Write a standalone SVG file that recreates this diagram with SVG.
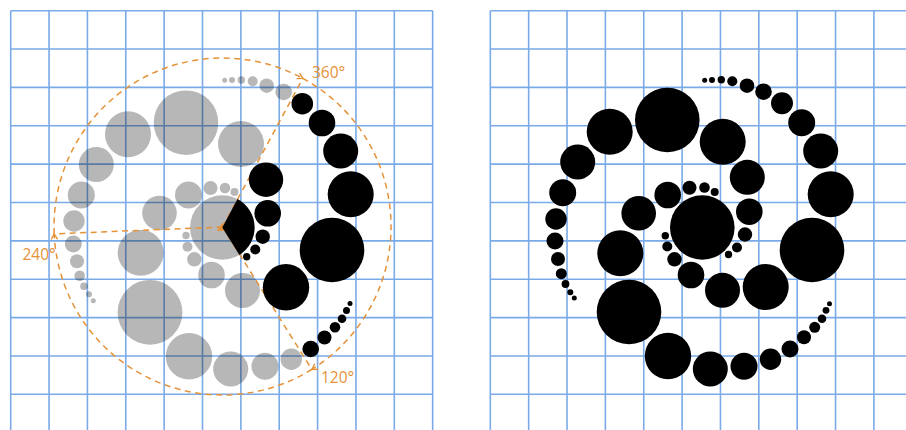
<svg xmlns="http://www.w3.org/2000/svg" width="906" height="430" viewBox="0 0 906 430">
<style>
.grid{fill:none;stroke:#7aabe8;stroke-width:1.6}
.gray{fill:#000}
.blk{fill:#000}
.guide{fill:none;stroke:#e59239;stroke-width:1.5;stroke-dasharray:6 4.5}
.lbl{font-family:"Open Sans","Liberation Sans",sans-serif;font-size:15.5px;fill:#e59239}
</style>
<defs>
<marker id="ah" markerUnits="userSpaceOnUse" markerWidth="10" markerHeight="10" refX="6.5" refY="4" orient="auto">
<path d="M1,0.8 L6.5,4 L1,7.2" fill="none" stroke="#e59239" stroke-width="1.4"/>
</marker>
<g id="grid">
<path class="grid" d="M10.7,10.7V430M49.06,10.7V430M87.42,10.7V430M125.78,10.7V430M164.14,10.7V430M202.5,10.7V430M240.86,10.7V430M279.22,10.7V430M317.58,10.7V430M355.94,10.7V430M394.3,10.7V430M432.66,10.7V430M10.7,10.7H432.66M10.7,49.06H432.66M10.7,87.42H432.66M10.7,125.78H432.66M10.7,164.14H432.66M10.7,202.5H432.66M10.7,240.86H432.66M10.7,279.22H432.66M10.7,317.58H432.66M10.7,355.94H432.66M10.7,394.3H432.66"/>
</g>
</defs>
<rect width="906" height="430" fill="#fff"/>

<g id="left-panel">
<use href="#grid"/>
<g id="left-gray" class="gray" opacity="0.28">
<circle cx="224.7" cy="80.3" r="2.5"/><circle cx="232" cy="80" r="3"/><circle cx="241.3" cy="80" r="3.7"/><circle cx="252.7" cy="81.3" r="5"/><circle cx="266.7" cy="85.7" r="7.2"/><circle cx="283.7" cy="92" r="8.3"/>
<circle cx="241" cy="144" r="23"/><circle cx="186" cy="122.7" r="32.3"/><circle cx="128" cy="134.3" r="23"/><circle cx="96.3" cy="164.5" r="17.5"/><circle cx="81.3" cy="195" r="13.5"/><circle cx="74" cy="221" r="10.7"/><circle cx="73.3" cy="244" r="8.5"/><circle cx="77" cy="261.3" r="7"/><circle cx="79.7" cy="275.7" r="5.3"/><circle cx="84" cy="286.3" r="3.8"/><circle cx="89" cy="294.3" r="3"/><circle cx="93.3" cy="300.7" r="2.5"/>
<circle cx="159.5" cy="213" r="17.3"/><circle cx="188.5" cy="195" r="13.5"/><circle cx="210.5" cy="188" r="7"/><circle cx="225" cy="188" r="5.3"/><circle cx="234.5" cy="192" r="4"/>
<circle cx="222.3" cy="227.5" r="32.3"/>
<circle cx="186" cy="235.5" r="3.7"/><circle cx="187.5" cy="246.7" r="5"/><circle cx="194.3" cy="259.3" r="7.2"/><circle cx="211.5" cy="275" r="13.3"/><circle cx="242.5" cy="290.5" r="17.5"/>
<circle cx="140.7" cy="252.7" r="23"/><circle cx="150" cy="312.3" r="32.4"/><circle cx="189" cy="356.3" r="23.2"/><circle cx="230.7" cy="369" r="17.5"/><circle cx="265" cy="366.3" r="13.5"/><circle cx="291.3" cy="359.3" r="10.7"/>
</g>
<g id="guides">
<path class="guide" d="M302.9,78.4 A168.5,168.5 0 0 1 311.8,369.4" marker-end="url(#ah)"/>
<path class="guide" d="M311.8,369.4 A168.5,168.5 0 0 1 54.2,233.9" marker-end="url(#ah)"/>
<path class="guide" d="M54.2,233.9 A168.5,168.5 0 0 1 302.9,78.4" marker-end="url(#ah)"/>
<path class="guide" d="M222.5,227 L302.9,78.4M222.5,227 L311.8,369.4M222.5,227 L54.2,233.9"/>
<polygon points="216.8,230.8 222.6,222.8 227,230.8" fill="#e59239"/>
</g>
<g id="left-black" class="blk">
<path d="M222.3,227.5 L237.5,199 A32.3,32.3 0 0 1 239.4,254.9 Z"/>
<circle cx="302.3" cy="103.7" r="10.8"/><circle cx="322" cy="123" r="13.3"/><circle cx="340.7" cy="151" r="17.5"/><circle cx="350.7" cy="194.3" r="23"/><circle cx="332" cy="250" r="32.3"/><circle cx="286" cy="287.3" r="23.2"/>
<circle cx="266" cy="179.7" r="17.2"/><circle cx="267.7" cy="213.3" r="13.3"/><circle cx="262.7" cy="236.7" r="7.2"/><circle cx="255.3" cy="249.5" r="5"/><circle cx="246.7" cy="256.8" r="3.7"/>
<circle cx="310.7" cy="349" r="8.3"/><circle cx="324.5" cy="337.5" r="7"/><circle cx="335" cy="327.3" r="5.3"/><circle cx="342" cy="318.7" r="4.3"/><circle cx="346.5" cy="310.5" r="3.5"/><circle cx="350" cy="303.5" r="2.5"/>
</g>
<g id="labels">
<text class="lbl" x="312" y="77.5">360°</text>
<text class="lbl" x="22.5" y="259.5">240°</text>
<text class="lbl" x="321" y="382.5">120°</text>
</g>
</g>

<g id="right-panel">
<use href="#grid" x="479.6"/>
<g id="right-spiral" class="blk">
<circle cx="704.7" cy="80.3" r="2.5"/><circle cx="712" cy="80" r="3"/><circle cx="721.3" cy="79.7" r="3.7"/><circle cx="732.3" cy="81.3" r="5"/><circle cx="747" cy="85.7" r="7.3"/><circle cx="763.5" cy="91.7" r="8.3"/><circle cx="782" cy="103.3" r="11"/><circle cx="801.7" cy="122.7" r="13.5"/><circle cx="820.7" cy="151" r="17.5"/><circle cx="830.7" cy="194.3" r="23"/><circle cx="812" cy="250" r="32.3"/><circle cx="765.7" cy="287" r="23"/><circle cx="722.5" cy="290.3" r="17.5"/><circle cx="691" cy="275" r="13.3"/><circle cx="674.5" cy="259.3" r="7.2"/><circle cx="667.3" cy="246.5" r="5"/><circle cx="665.3" cy="235.7" r="3.7"/>
<circle cx="702.3" cy="227.5" r="32.3"/>
<circle cx="747.3" cy="177.3" r="17.5"/><circle cx="749.3" cy="211.7" r="13.3"/><circle cx="745" cy="234.5" r="7.2"/><circle cx="737" cy="247.5" r="5"/><circle cx="728.5" cy="254.5" r="3.7"/>
<circle cx="722.7" cy="141.7" r="23"/><circle cx="667.3" cy="120" r="32.3"/><circle cx="609.7" cy="131.7" r="23"/><circle cx="577.7" cy="162" r="17.5"/><circle cx="562.7" cy="192.7" r="13.5"/><circle cx="556" cy="219" r="10.7"/><circle cx="555" cy="241" r="8.5"/><circle cx="558" cy="259" r="7"/><circle cx="561.3" cy="273.7" r="5.5"/><circle cx="565.5" cy="284" r="3.9"/><circle cx="570.3" cy="292.3" r="3"/><circle cx="574.3" cy="298" r="2.5"/>
<circle cx="638.7" cy="213.3" r="17.3"/><circle cx="667.7" cy="195" r="13.3"/><circle cx="689.5" cy="187.7" r="7"/><circle cx="704.5" cy="187.5" r="5.3"/><circle cx="714.7" cy="192" r="4"/>
<circle cx="620.3" cy="253.3" r="23"/><circle cx="629" cy="312" r="32.3"/><circle cx="668" cy="356" r="23.2"/><circle cx="710.3" cy="369" r="17.5"/><circle cx="744" cy="366.3" r="13.5"/><circle cx="770.5" cy="359.3" r="10.7"/><circle cx="790" cy="349" r="8.5"/><circle cx="804" cy="337.3" r="7"/><circle cx="814.7" cy="327.3" r="5.5"/><circle cx="822" cy="318.7" r="4.3"/><circle cx="826" cy="310.3" r="3.4"/><circle cx="829.5" cy="303.7" r="2.5"/>
</g>
</g>
</svg>
